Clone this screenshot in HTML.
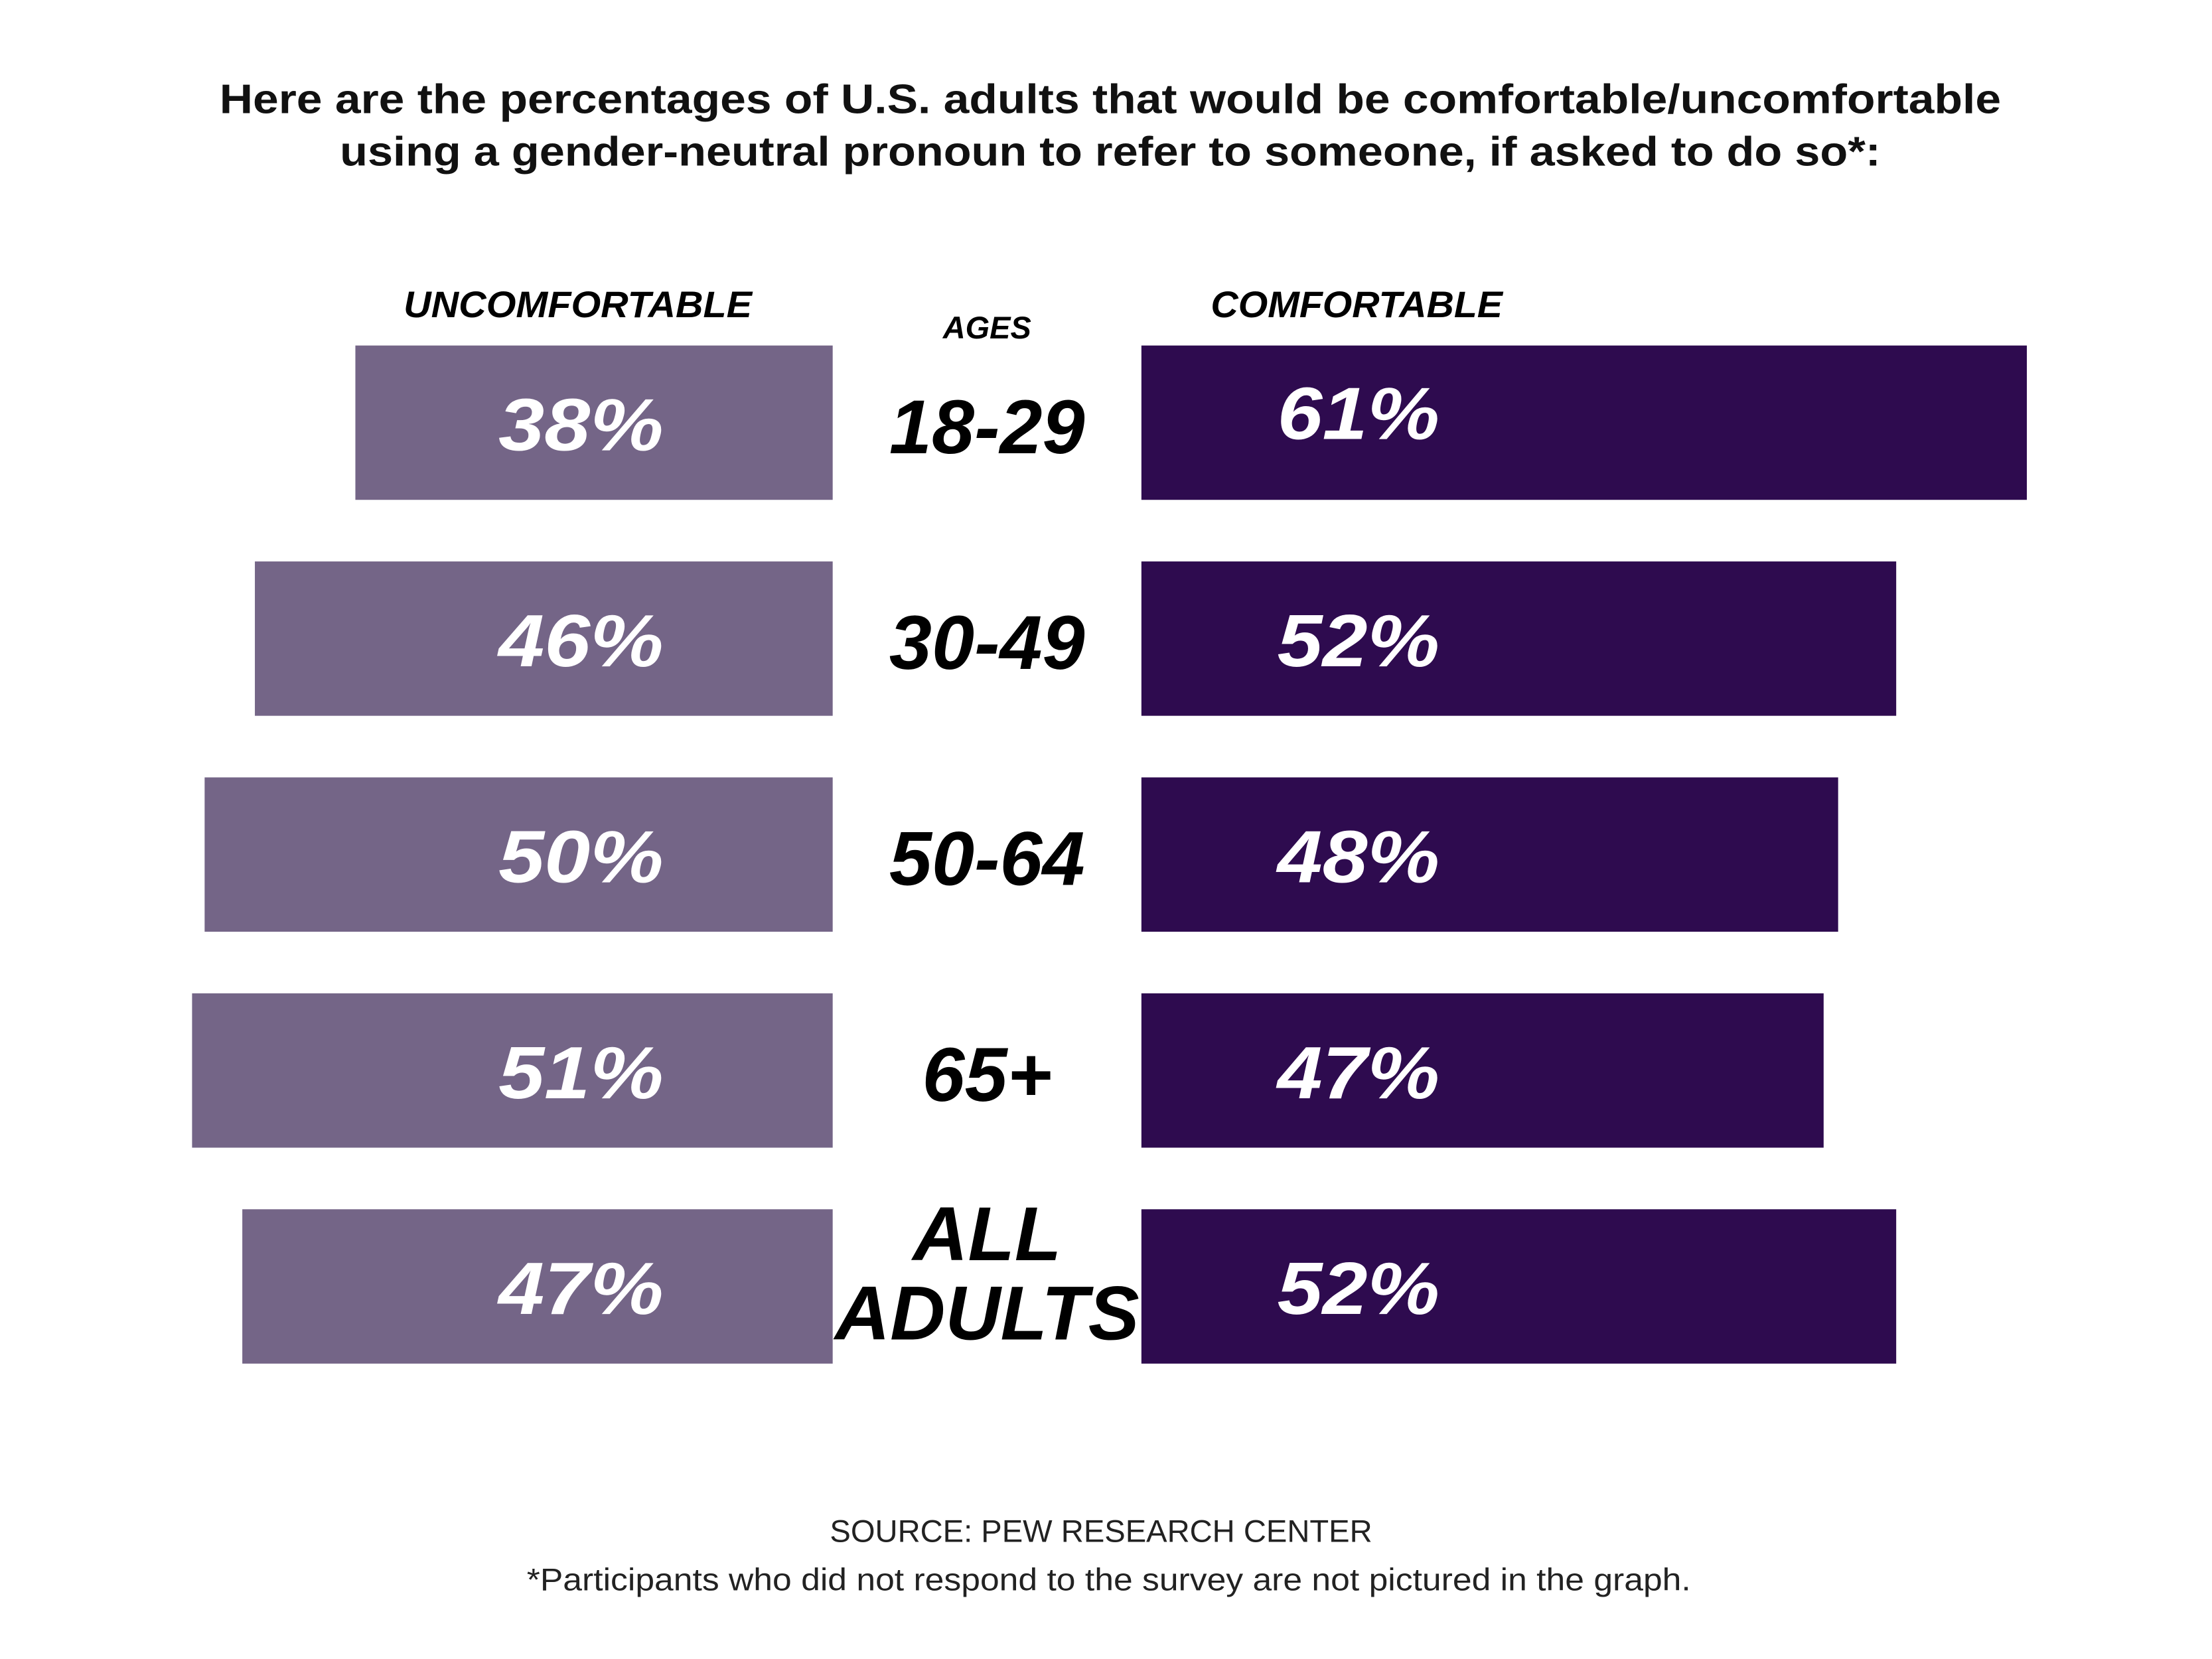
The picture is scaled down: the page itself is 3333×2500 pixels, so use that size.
<!DOCTYPE html>
<html><head><meta charset="utf-8"><style>
html,body{margin:0;padding:0;background:#fff;}
svg{display:block;}
</style></head><body>
<svg id="chart" width="3333" height="2500" viewBox="0 0 1562 1171.6" xmlns="http://www.w3.org/2000/svg" font-family="'Liberation Sans', sans-serif">
<rect width="1562" height="1171.6" fill="#fff"/>
<text x="155" y="80" font-size="29" font-weight="bold" fill="#111" textLength="1258" lengthAdjust="spacingAndGlyphs">Here are the percentages of U.S. adults that would be comfortable/uncomfortable</text>
<text x="240" y="117" font-size="29" font-weight="bold" fill="#111" textLength="1088" lengthAdjust="spacingAndGlyphs">using a gender-neutral pronoun to refer to someone, if asked to do so*:</text>
<text x="408" y="224" text-anchor="middle" font-size="26" font-weight="bold" font-style="italic" fill="#000" textLength="246" lengthAdjust="spacingAndGlyphs">UNCOMFORTABLE</text>
<text x="697" y="239" text-anchor="middle" font-size="22" font-weight="bold" font-style="italic" fill="#000">AGES</text>
<text x="958" y="224" text-anchor="middle" font-size="26" font-weight="bold" font-style="italic" fill="#000" textLength="206" lengthAdjust="spacingAndGlyphs">COMFORTABLE</text>
<g id="bars"></g>
<text x="586" y="1089" font-size="22" fill="#222" textLength="383" lengthAdjust="spacingAndGlyphs">SOURCE: PEW RESEARCH CENTER</text>
<text x="372" y="1123" font-size="22" fill="#222" textLength="822" lengthAdjust="spacingAndGlyphs">*Participants who did not respond to the survey are not pictured in the graph.</text>
</svg>
<script>
const categories = ["18-29", "30-49", "50-64", "65+", "ALL ADULTS"];
const uncomfortable = [38, 46, 50, 51, 47];
const comfortable = [61, 52, 48, 47, 52];

const NS = "http://www.w3.org/2000/svg";
const g = document.getElementById("bars");
const leftEdge = 588, rightEdge = 806;
const leftScale = v => v * 8.87;
const rightScale = v => v * 10.25;
const rowY = i => 244 + i * 152.5;
const barH = 109;
function mk(tag, attrs) {
  const el = document.createElementNS(NS, tag);
  for (const k in attrs) el.setAttribute(k, attrs[k]);
  g.appendChild(el);
  return el;
}
function widen(el, f) {
  const w = el.getComputedTextLength();
  el.setAttribute("textLength", (w * f).toFixed(1));
  el.setAttribute("lengthAdjust", "spacingAndGlyphs");
}
categories.forEach((c, i) => {
  const y = rowY(i);
  const lw = leftScale(uncomfortable[i]);
  const lb = mk("rect", {x: leftEdge - lw, y: y, width: lw, height: barH, fill: "#746587"});
  
  
  const rw = rightScale(comfortable[i]);
  const rb = mk("rect", {x: rightEdge, y: y, width: rw, height: barH, fill: "#2e0b4f"});
  
  
  const lt = mk("text", {x: 352, y: y + 74, "font-size": 52, "font-weight": "bold", "font-style": "italic", fill: "#fff"});
  lt.textContent = uncomfortable[i] + "%";
  
  
  widen(lt, 1.12);
  const rt = mk("text", {x: 902, y: y + (i === 0 ? 66 : 74), "font-size": 52, "font-weight": "bold", "font-style": "italic", fill: "#fff"});
  rt.textContent = comfortable[i] + "%";
  
  
  widen(rt, 1.1);
  const parts = c === "ALL ADULTS" ? ["ALL", "ADULTS"] : [c];
  parts.forEach((p, j) => {
    const ty = parts.length > 1 ? y + 36 + j * 56 : y + 76;
    const t = mk("text", {x: 697, y: ty, "text-anchor": "middle", "font-size": 54, "font-weight": "bold", "font-style": "italic", fill: "#000"});
    t.textContent = p;
    
    
  });
});
</script>
</body></html>
